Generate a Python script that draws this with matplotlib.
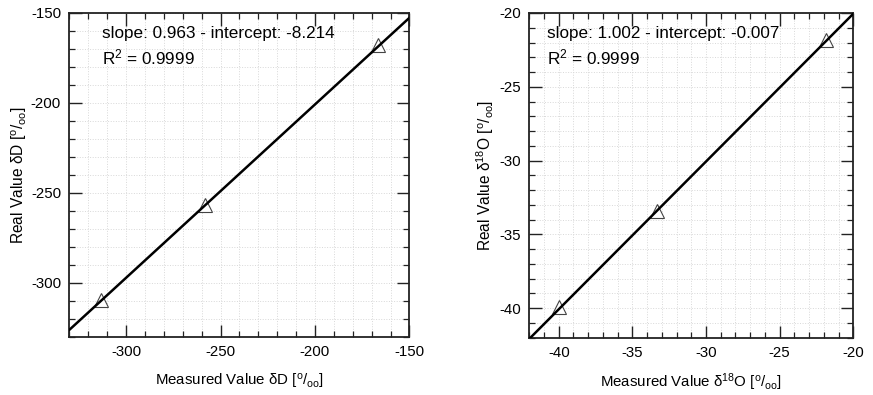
import numpy as np
import matplotlib
matplotlib.use("Agg")
import matplotlib.pyplot as plt
from matplotlib.ticker import MultipleLocator

plt.rcParams['font.family'] = ['Liberation Sans', 'DejaVu Sans']
plt.rcParams['mathtext.default'] = 'regular'
plt.rcParams['axes.unicode_minus'] = False

# Data: deuterium
d_measured = [-313.3, -258.1, -166.6]
d_real = [-309.5, -256.7, -167.8]
d_slope, d_intercept, d_r2 = 0.963, -8.214, 0.9999
d_lim = (-330, -150)

# Data: oxygen-18
o_measured = [-39.95, -33.36, -21.87]
o_real = [-39.93, -33.4, -21.8]
o_slope, o_intercept, o_r2 = 1.002, -0.007, 0.9999
o_lim = (-42, -20)

W, H = 873, 395
fig = plt.figure(figsize=(W / 100, H / 100), dpi=100)
ax1 = fig.add_axes([69.4 / W, 58 / H, 340 / W, 324 / H])
ax2 = fig.add_axes([529.3 / W, 57.5 / H, 324 / W, 324.5 / H])

permil = r'[$^{o}$/$_{oo}$]'

def style(ax, lim, major, minor):
    ax.set_xlim(lim)
    ax.set_ylim(lim)
    ax.xaxis.set_major_locator(MultipleLocator(major))
    ax.yaxis.set_major_locator(MultipleLocator(major))
    ax.xaxis.set_minor_locator(MultipleLocator(minor))
    ax.yaxis.set_minor_locator(MultipleLocator(minor))
    ax.tick_params(which='both', direction='in', top=True, right=True,
                   labelsize=10.8, color='#222222')
    ax.tick_params(which='major', length=9, width=1.0, pad=6)
    ax.tick_params(which='minor', length=4.5, width=0.9)
    ax.grid(which='both', color='#d8d8d8', linestyle=':', linewidth=0.7)
    ax.set_axisbelow(True)
    for s in ax.spines.values():
        s.set_linewidth(1.3)
        s.set_color('#222222')

def panel(ax, xm, yr, slope, intercept, r2, lim, major, minor, xl, yl, tx, ylx):
    style(ax, lim, major, minor)
    xs = np.array(lim, dtype=float)
    ax.plot(xm, yr, linestyle='none', marker='^', markersize=10,
            markerfacecolor='white', markeredgecolor='#444444',
            markeredgewidth=0.8, zorder=3)
    ax.plot(xs, slope * xs + intercept, color='black', lw=1.8, zorder=4)
    ax.text(tx, 0.938, f'slope: {slope:.3f} - intercept: {intercept:.3f}',
            transform=ax.transAxes, fontsize=12.3, va='center', ha='left')
    ax.text(tx, 0.862, f'R$^2$ = {r2:.4f}',
            transform=ax.transAxes, fontsize=12.3, va='center', ha='left')
    ax.set_xlabel(xl, fontsize=10.8, va='center')
    ax.set_ylabel(yl, fontsize=11.2, va='center')
    ax.xaxis.set_label_coords(0.5, -0.137)
    ax.yaxis.set_label_coords(ylx, 0.5)

panel(ax1, d_measured, d_real, d_slope, d_intercept, d_r2, d_lim, 50, 10,
      r'Measured Value δD ' + permil, r'Real Value δD ' + permil, 0.095, -0.147)
panel(ax2, o_measured, o_real, o_slope, o_intercept, o_r2, o_lim, 5, 1,
      r'Measured Value δ$^{18}$O ' + permil, r'Real Value δ$^{18}$O ' + permil, 0.054, -0.135)

fig.savefig('out.png', dpi=100)
